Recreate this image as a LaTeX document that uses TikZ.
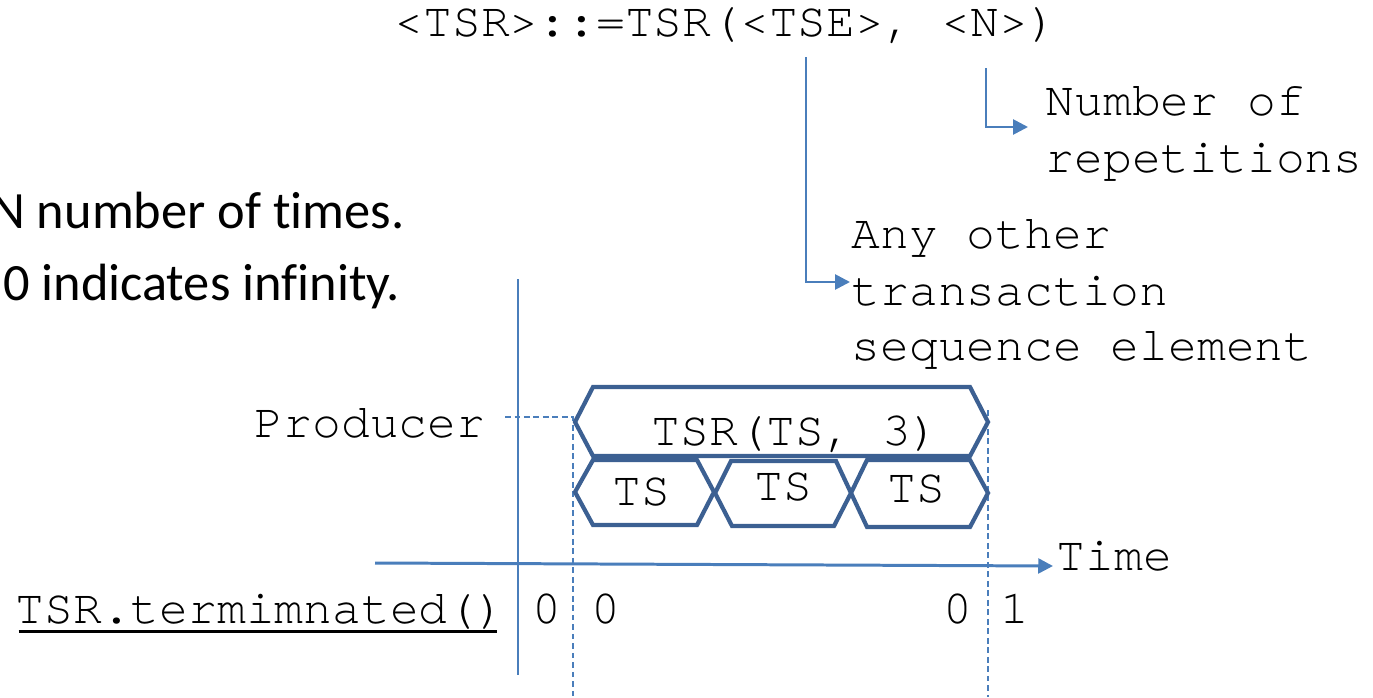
\documentclass[tikz,border=0pt]{standalone}
\usepackage{fontspec}
\setmainfont{Carlito}[Ligatures=NoCommon]
\setmonofont{texgyrecursor-regular.otf}
\usetikzlibrary{arrows.meta}
\definecolor{hexblue}{HTML}{3C6092}
\definecolor{lineblue}{HTML}{4A7EBB}
\begin{document}
\begin{tikzpicture}[x=0.01cm,y=-0.01cm,
  mono/.style={font=\ttfamily\fontsize{13.65}{16}\selectfont, inner sep=0pt, text=black},
  prose/.style={font=\fontsize{14.9}{18}\selectfont, inner sep=0pt, text=black},
  hexline/.style={draw=hexblue, line width=1.2pt, line join=miter},
  axisline/.style={draw=lineblue, line width=0.6pt},
  guide/.style={draw=lineblue, line width=0.45pt, dash pattern=on 1.6pt off 1.1pt},
  arr/.style={draw=lineblue, line width=0.75pt, -{Triangle[length=4.2pt,width=4.2pt]}},
]
\useasboundingbox (0,0) rectangle (1373,697);
\clip (0,0) rectangle (1373,697);

% grammar rule and its annotations
\node[mono, anchor=base west] (rule) at (394,37) {<TSR>::=TSR(<TSE>, <N>)};
\node[mono, anchor=base west] (num1) at (1045,115) {Number of};
\node[mono, anchor=base west] (num2) at (1045,172) {repetitions};
\node[mono, anchor=base west] (any1) at (851,248) {Any other};
\node[mono, anchor=base west] (any2) at (851,305) {transaction};
\node[mono, anchor=base west] (any3) at (851,360) {sequence element};

\coordinate (tseFoot) at (806,57);
\coordinate (tseTip) at (850,282);
\coordinate (nFoot) at (986,68);
\coordinate (nTip) at (1028,127);
\draw[arr] (tseFoot) |- (tseTip);
\draw[arr] (nFoot) |- (nTip);

% explanatory text
\node[prose, anchor=base east] (txt1) at (405,228) {N number of times.};
\node[prose, anchor=base east] (txt2) at (401,300) {0 indicates infinity.};

% axes
\coordinate (vTop) at (518,279);
\coordinate (vBot) at (518,675);
\draw[axisline] (vTop) -- (vBot);
\coordinate (tStart) at (375,563);
\coordinate (tEnd) at (1053,566);
\draw[arr, line width=0.85pt] (tStart) -- (tEnd);
\node[mono, anchor=base west] (time) at (1056,570) {Time};

% guides
\coordinate (gL) at (505,417);
\coordinate (gLc) at (573,417);
\coordinate (gLb) at (573,697);
\coordinate (gRt) at (988,410);
\coordinate (gRb) at (988,697);
\draw[guide] (gL) -- (gLc) -- (gLb);
\draw[guide] (gRt) -- (gRb);

% sequence elements
\draw[hexline] (575,422) -- (593,387) -- (970,387) -- (988,422) -- (970,456) -- (593,456) -- cycle;
\draw[hexline] (575,492) -- (593,460) -- (697,460) -- (714,492) -- (697,525) -- (593,525) -- cycle;
\draw[hexline] (715,493) -- (731,461) -- (836,461) -- (851,493) -- (834,526) -- (732,526) -- cycle;
\draw[hexline] (851,493) -- (867,460) -- (970,460) -- (988,493) -- (970,527) -- (867,527) -- cycle;

\node[mono, anchor=base west] (tsr) at (651,445) {TSR(TS, 3)};
\node[mono, anchor=base] (ts1) at (641,505) {TS};
\node[mono, anchor=base] (ts2) at (783,500) {TS};
\node[mono, anchor=base] (ts3) at (916,502) {TS};

\node[mono, anchor=base east] (prod) at (486,437) {Producer};
\node[mono, anchor=base west] (term) at (15,623) {TSR.termimnated()};
\draw[line width=0.9pt] ([yshift=-2.3pt,xshift=1pt]term.base west) -- ([yshift=-2.3pt,xshift=-2.6pt]term.base east);
\node[mono, anchor=base] (v0) at (547,623) {0};
\node[mono, anchor=base] (v1) at (606,623) {0};
\node[mono, anchor=base] (v2) at (958,623) {0};
\node[mono, anchor=base] (v3) at (1015,623) {1};
\end{tikzpicture}
\end{document}
